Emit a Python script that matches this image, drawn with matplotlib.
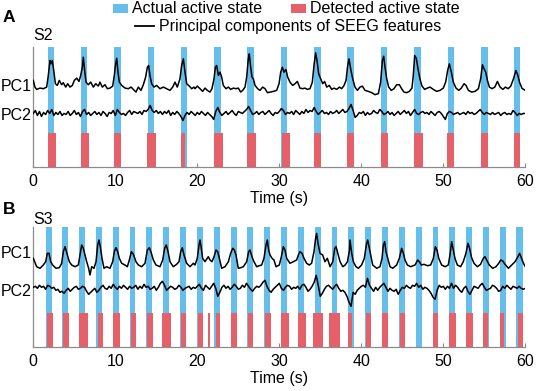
import numpy as np
import matplotlib
matplotlib.use("Agg")
import matplotlib.pyplot as plt
from matplotlib.patches import Rectangle
from matplotlib.lines import Line2D

plt.rcParams['font.family'] = ['Liberation Sans', 'DejaVu Sans']

# ---------------- data ----------------
xticks = [0, 10, 20, 30, 40, 50, 60]

A_actual_start = [1.75, 5.79, 9.88, 13.96, 18.0, 22.08, 26.1, 30.17, 34.25, 38.3, 42.38, 46.46, 50.54, 54.58, 58.6]
A_actual_end = [2.54, 6.58, 10.67, 14.75, 18.8, 22.88, 26.9, 30.96, 35.04, 39.1, 43.17, 47.25, 51.25, 55.4, 59.3]
A_detect_start = [1.75, 5.79, 9.88, 13.83, 18.0, 22.08, 26.1, 30.3, 34.25, 38.3, 42.46, 46.46, 50.4, 54.58, 58.6]
A_detect_end = [2.75, 6.75, 10.75, 14.96, 18.54, 23.08, 27.2, 31.3, 35.04, 39.1, 43.25, 47.54, 51.3, 55.42, 59.4]

B_actual_start = [0.0, 1.54, 3.54, 5.58, 7.67, 9.67, 11.75, 13.79, 15.83, 17.92, 19.96, 22.0, 24.08, 26.08, 28.17,
                  30.25, 32.3, 34.33, 36.38, 38.4, 40.5, 42.5, 44.58, 46.63, 48.7, 50.75, 52.8, 54.83, 56.9, 58.9]
B_actual_end = [0.1, 2.25, 4.25, 6.29, 8.38, 10.4, 12.46, 14.5, 16.58, 18.63, 20.67, 22.75, 24.79, 26.83, 28.9,
                30.96, 33.04, 35.08, 37.08, 39.17, 41.2, 43.25, 45.3, 47.38, 49.4, 51.46, 53.54, 55.58, 57.63, 59.67]
B_detect_start = [0.0, 1.67, 3.63, 5.63, 7.88, 9.75, 11.9, 13.88, 15.75, 18.0, 20.13, 21.25, 22.25, 24.08, 26.17,
                  28.25, 30.25, 32.33, 34.17, 36.08, 38.38, 40.58, 42.5, 44.67, 48.75, 50.75, 52.8, 54.88, 56.9, 59.08]
B_detect_end = [0.08, 2.38, 4.33, 6.63, 8.46, 10.58, 12.58, 14.58, 16.75, 18.58, 20.67, 21.58, 22.75, 24.9, 26.83,
                28.96, 31.13, 33.25, 35.33, 37.4, 38.9, 41.17, 43.25, 45.3, 49.38, 51.54, 53.63, 55.5, 57.46, 59.75]

# PC1 (S2) keypoints: time (s), amplitude
A_pc1_t = [0.0, 0.2, 0.41, 0.82, 1.22, 1.63, 1.83, 2.04, 2.16, 2.32, 2.52, 2.69, 2.93, 3.17, 3.46, 3.66, 3.95, 4.19,
           4.48, 4.76, 5.0, 5.29, 5.57, 5.78, 5.98, 6.1, 6.26, 6.43, 6.71, 7.0, 7.32, 7.61, 7.93, 8.13, 8.42, 8.74,
           9.03, 9.35, 9.68, 9.88, 10.04, 10.17, 10.33, 10.49, 10.78, 11.18, 11.59, 11.92, 12.2, 12.52, 12.81, 13.13,
           13.42, 13.7, 13.91, 14.07, 14.23, 14.43, 14.72, 15.04, 15.45, 15.86, 16.26, 16.67, 17.0, 17.28, 17.56,
           17.89, 18.09, 18.3, 18.5, 18.7, 19.03, 19.31, 19.6, 19.72, 20.0, 20.33, 20.65, 20.94, 21.22, 21.55, 21.79,
           22.04, 22.2, 22.36, 22.57, 22.77, 22.97, 23.17, 23.5, 23.79, 24.07, 24.4, 24.72, 25.0, 25.29, 25.53, 25.82,
           26.02, 26.22, 26.34, 26.51, 26.67, 26.83, 27.04, 27.36, 27.65, 27.97, 28.26, 28.55, 28.87, 29.28, 29.68,
           29.97, 30.17, 30.37, 30.57, 30.81, 31.02, 31.3, 31.63, 31.92, 32.2, 32.52, 32.85, 33.13, 33.42, 33.74,
           34.03, 34.23, 34.43, 34.6, 34.8, 35.05, 35.29, 35.53, 35.78, 36.1, 36.39, 36.67, 37.0, 37.33, 37.61, 37.9,
           38.14, 38.34, 38.5, 38.7, 38.95, 39.23, 39.52, 39.84, 40.13, 40.45, 40.86, 41.27, 41.67, 42.08, 42.36,
           42.57, 42.73, 42.89, 43.1, 43.34, 43.66, 43.99, 44.31, 44.64, 44.92, 45.2, 45.53, 45.86, 46.18, 46.34,
           46.51, 46.71, 46.91, 47.15, 47.4, 47.73, 48.05, 48.38, 48.78, 49.19, 49.6, 50.0, 50.29, 50.53, 50.74,
           50.98, 51.22, 51.55, 51.88, 52.2, 52.53, 52.77, 53.06, 53.46, 53.87, 54.28, 54.56, 54.77, 54.97, 55.18,
           55.38, 55.62, 55.95, 56.28, 56.6, 56.93, 57.26, 57.58, 57.91, 58.23, 58.56, 58.85, 59.1, 59.3, 59.6, 60.0]
A_pc1_v = [10, 3.3, 1, 2.3, 1.7, 3.3, 15, 30, 26.7, 30, 18.3, 6.7, 5, 10, 5.7, 7.7, 3.3, 6.7,
           3.3, 5, 10, 12.3, 9, 15, 23.3, 33.3, 20, 8.3, 5.7, 8.3, 3.3, 6.7, 4.3, 8.3, 3.3, 5.7,
           1.7, 2.3, 4.3, 15, 26.7, 32.3, 18.3, 8.3, 5, 2.3, 1.7, 3.3, 1, -1.7, 3.3, 0,
           5.7, 13.3, 23.3, 25, 15, 6.7, 3.3, 5, 1.7, 3.3, 1.7, 0, 3.3, 8.3, 3.3,
           11.7, 25, 31.7, 18.3, 6.7, 4.3, 1.7, 3.3, 1.7, 4.3, 1.7, -1, 2.3, 0, -1.7, 1.7,
           11.7, 23.3, 25, 15, 18.3, 13.3, 5, 1.7, 3.3, 1, 2.3, 1.7, 2.3, -1.7, 0, 3.3,
           13.3, 31.7, 36.7, 23.3, 13.3, 11.7, 5, 1.7, 0, 3.3, 1.7, -2.3, -1.7, -1, 0,
           6.7, 18.3, 23.3, 18.3, 21, 13.3, 8.3, 5, 6.7, 9, 2.3, 1.7, 2.3, 1, 1.7,
           8.3, 25, 37.7, 30, 16.7, 11.7, 6.7, 9, 3.3, 5, 1, 2.3, 1, 3.3, 1.7, 5,
           10, 25, 31.7, 21.7, 11.7, 3.3, 0, 3.3, 4.3, 0, -1, -2.3, -4.3, -3.3, 8.3,
           30, 34.3, 23.3, 11.7, 3.3, 0, 1.7, 5.7, 5.7, 1.7, -1.7, -2.3, -1, 2.3, 15,
           35, 32.3, 21.7, 11.7, 4.3, 1, 2.3, 3.3, 1, -1, 0, 2.3, 8.3, 20, 26.7,
           18.3, 8.3, 2.3, 0, 2.3, 6.7, 5, 0, -1.7, -1, 1.7, 11.7, 25.7, 21.7, 18.3,
           10, 3.3, 1.7, 3.3, 9, 3.3, 1, 3.3, 1.7, 4.3, 11.7, 20, 15, 8, 2, 0]

# PC2 (S2), sampled every 0.25 s from 0 to 60 s
A_pc2 = [0, 3, -2, 2, -3, 1, -1, 3, 0, 4, -2, 1, -1, 2, -2, 0,
         -1, 2, -2, 0, 3, -1, 1, -3, 2, 4, -1, 1, -2, 0, 2, -1,
         1, -2, 2, 0, -3, 1, 0, 3, -2, 4, 1, -1, 0, -2, 1, 3,
         -1, 2, 1, 0, 2, -1, 3, 2, 4, 8, 3, 1, 3, 0, 2, -1,
         2, 0, 3, -2, 1, -1, 2, 0, -3, -7, -2, 1, -1, 2, 0, -2,
         1, -1, 2, 0, -2, 1, -1, -3, -6, 2, 6, 1, -2, 0, 2, -1,
         1, 3, 0, -2, 2, 1, 0, 2, 4, 7, 3, -1, 0, 2, -1, 1,
         2, -1, 1, 3, 0, -2, 1, 0, 2, 5, 3, -1, 1, 0, 2, -1,
         3, 1, -1, 2, 0, 4, 1, 3, 2, 6, 2, -1, 1, 3, 0, 1,
         -1, 2, 0, 1, 3, 0, 2, 4, 1, 2, 5, 9, 3, -4, -2, 1,
         0, 2, -2, 1, -1, 0, 3, 1, 0, 4, 2, -1, 0, 2, -1, 1,
         -2, 0, 2, -1, 1, 3, 0, 2, -2, 1, 4, 0, -1, 1, 2, 0,
         1, -1, 2, 0, -2, 1, 2, 0, -3, -6, 0, 2, 1, -1, 0, 1,
         -1, 0, 1, -1, 2, 0, 1, -1, 0, 2, 4, 1, -1, 1, 0, -1,
         1, -1, 0, 1, -2, 0, 1, -1, 0, -1, 3, 1, -2, 0, -1, 0, 0]

# PC1 (S3) keypoints
B_pc1_t = [0.0, 0.41, 0.82, 1.22, 1.51, 1.71, 1.91, 2.12, 2.36, 2.77, 3.17, 3.46, 3.66, 3.87, 4.15, 4.39, 4.68,
           5.09, 5.49, 5.7, 5.9, 6.1, 6.3, 6.51, 6.75, 6.91, 7.12, 7.4, 7.65, 7.85, 8.01, 8.17, 8.38, 8.62, 8.95,
           9.35, 9.68, 9.88, 10.09, 10.29, 10.49, 10.78, 11.18, 11.47, 11.71, 11.96, 12.2, 12.52, 12.81, 13.22,
           13.62, 13.91, 14.15, 14.4, 14.64, 14.96, 15.45, 15.78, 16.02, 16.22, 16.43, 16.67, 17.07, 17.48, 17.77,
           17.97, 18.17, 18.38, 18.7, 19.11, 19.52, 19.72, 20.0, 20.21, 20.33, 20.49, 20.65, 20.94, 21.34, 21.55,
           21.79, 22.04, 22.28, 22.49, 22.69, 22.97, 23.38, 23.79, 24.07, 24.32, 24.52, 24.72, 25.0, 25.29, 25.62,
           26.02, 26.26, 26.42, 26.67, 26.91, 27.24, 27.57, 27.85, 28.13, 28.38, 28.54, 28.7, 28.87, 29.11, 29.35,
           29.6, 30.0, 30.25, 30.49, 30.69, 30.9, 31.3, 31.71, 32.11, 32.36, 32.52, 32.77, 33.01, 33.33, 33.66,
           33.94, 34.23, 34.43, 34.55, 34.72, 34.96, 35.29, 35.57, 35.86, 36.19, 36.52, 36.76, 36.92, 37.13, 37.41,
           37.74, 38.03, 38.31, 38.56, 38.62, 38.83, 39.03, 39.35, 39.64, 40.04, 40.37, 40.61, 40.78, 40.98, 41.14,
           41.39, 41.88, 42.28, 42.53, 42.69, 42.85, 43.01, 43.22, 43.5, 43.83, 44.31, 44.64, 44.92, 45.13, 45.33,
           45.62, 46.02, 46.55, 46.88, 47.08, 47.32, 47.65, 48.06, 48.46, 48.79, 49.03, 49.23, 49.44, 49.8, 50.21,
           50.61, 50.81, 51.02, 51.22, 51.42, 51.71, 52.11, 52.44, 52.76, 53.01, 53.21, 53.41, 53.74, 54.15, 54.55,
           54.88, 55.08, 55.29, 55.61, 56.02, 56.43, 56.76, 57.0, 57.25, 57.53, 57.94, 58.35, 58.75, 59.1, 59.3,
           59.55, 59.8, 60.0]
B_pc1_v = [8.4, 0, -1.6, 1.7, 5, 13.4, 13.4, 5, 1.7, -1.6, -1, 3.4, 15, 20, 11.7, 5, 1.7,
           0, 1.7, 11.7, 21.7, 18.4, 11.7, 5, -1.6, -8.3, 0, -1.6, 5, 21.7, 26.7, 20, 8.4, -1.6, 0,
           -1.6, 5, 15, 19, 15, 8.4, 3.4, 1.7, 0, 6.7, 15, 12.4, 5, 1.7, 0,
           3.4, 16.7, 19, 13.4, 6.7, 1.7, 0, 6.7, 18.4, 21.7, 15, 5, 0, 2.4, 5,
           15, 19, 11.7, 3.4, 0, 3.4, 1.7, 8.4, 21.7, 26.7, 18.4, 8.4, 5, 10, 6.7,
           5, 10, 16.7, 15, 8.4, -1.6, 0, 5, 13.4, 18.4, 16.7, 11.7, -1.6, -1, 0,
           5, 15, 16.7, 10, 5, 0, 1, 1.7, 8.4, 21.7, 26.7, 16.7, 11.7, 8.4, 6.7,
           0, 1.7, 10, 20, 16.7, 8.4, 3.4, 5, 6.7, 12.4, 15, 13.4, 8.4, 3.4, 1.7,
           3.4, 15, 28.4, 33.3, 23.4, 13.4, 11.7, 5, 8.4, 0, 5, 18.4, 20, 13.4, 5,
           0, 1.7, 5, 16.7, 26.7, 13.4, 5, 0, -1.6, 1.7, 8.4, 21.7, 26.7, 18.4, 11.7,
           1.7, -1.6, 0, 8.4, 21.7, 25, 15, 8.4, 0, -1.6, 1.7, 8.4, 18.4, 13.4, 6.7,
           1.7, 0, 1.7, 6.7, 5, 1.7, 2.4, 1, 1.7, 8.4, 20, 16.7, 8.4, 1.7, 0,
           1.7, 11.7, 25, 16.7, 8.4, 1.7, 0, 5, 13.4, 23.4, 18.4, 10, 3.4, 0, 2.4,
           8.4, 10, 6.7, 1.7, -1.6, 0, 3.4, 6.7, 5.7, 2.4, -1.6, 1.7, 5, 10, 13.3,
           8, 3, 0]

# PC2 (S3), sampled every 0.25 s from 0 to 60 s
B_pc2 = [1, 2, 0, 3, 1, 2, -1, 3, 2, 0, 1, -2, -1, -4, -3, -5,
         -2, 0, -3, -1, 1, 2, -1, 0, 2, 1, -3, -6, -4, -2, 0, -4,
         -2, 1, 3, 0, -1, 2, 0, 4, 1, -1, 2, 0, 3, 1, -1, 2,
         0, 1, 3, -1, 2, 0, 4, 1, 2, -1, 0, 2, -2, 1, 5, 7,
         3, -2, 0, 2, 1, -1, 0, 3, 1, -2, 0, 1, 2, -1, 1, 0,
         2, 4, 0, -2, 3, 1, -1, 2, 5, 0, -8, -4, 1, 3, 0, 2,
         -1, 1, 4, 2, -1, 0, 3, 1, 5, 2, -1, -3, 0, 2, 1, 3,
         6, 8, 2, -2, -4, -1, 1, 3, 5, 0, -2, 1, 3, 2, -1, 1,
         0, 2, -1, 3, 4, 1, -3, -1, 2, 6, 13, 3, -8, -5, -1, 2,
         3, 1, -1, 2, 4, 0, -3, -2, -4, -8, -14, -18, -4, -6, -2, 0,
         2, 3, 1, 10, 3, 0, -3, 1, -2, 1, 3, 5, 1, -3, 0, -2,
         -3, -1, -6, -2, 1, 0, 3, 1, 0, 3, 2, 5, 1, 3, -1, 1,
         0, -2, -5, -9, -11, -2, 3, 1, 2, -1, 2, 0, 5, 0, 3, 1,
         -2, -4, 0, 2, -3, -6, -2, 2, 1, 0, 3, 5, 1, -2, -1, 0,
         3, 2, 0, -3, -2, 2, 0, 3, 1, -1, 2, 1, 0, 2, 0, -1, 0]

# ---------------- figure ----------------
W, H = 536, 391
fig = plt.figure(figsize=(W / 100, H / 100), dpi=100)

BLUE = '#66BEEA'
RED = '#E6606A'
GRAY = '#8c8c8c'
FS = 11.5


def fx(x):
    return x / W


def fy(y):
    return 1 - y / H


def panel(top, bottom, act_s, act_e, det_s, det_e, pc1_t, pc1_v, pc2, off1, off2):
    ax = fig.add_axes([fx(33.3), fy(bottom), fx(525.3) - fx(33.3), (bottom - top) / H])
    ax.set_xlim(0, 60)
    ax.set_ylim(0, 120)
    s = np.array(act_s); e = np.array(act_e)
    ax.bar(s, 120, width=e - s, align='edge', color=BLUE, linewidth=0, zorder=1)
    s = np.array(det_s); e = np.array(det_e)
    ax.bar(s, 34, width=e - s, align='edge', color=RED, linewidth=0, zorder=2)
    ax.plot(pc1_t, np.array(pc1_v) + off1, color='black', lw=1.1, zorder=3)
    t2 = np.arange(len(pc2)) * 0.25
    ax.plot(t2, np.array(pc2) + off2, color='black', lw=1.1, zorder=3)
    for sp in ['top', 'right']:
        ax.spines[sp].set_visible(False)
    for sp in ['left', 'bottom']:
        ax.spines[sp].set_color(GRAY)
        ax.spines[sp].set_linewidth(0.9)
    ax.set_axisbelow(True)
    ax.set_yticks([])
    ax.set_xticks(xticks)
    ax.tick_params(axis='x', direction='in', length=3, color=GRAY, labelsize=FS, pad=5)
    ax.set_xlabel('Time (s)', fontsize=FS, labelpad=1.5)
    return ax


axA = panel(47.3, 166.7, A_actual_start, A_actual_end, A_detect_start, A_detect_end,
            A_pc1_t, A_pc1_v, A_pc2, 76.7, 53.5)
axB = panel(226.7, 346.7, B_actual_start, B_actual_end, B_detect_start, B_detect_end,
            B_pc1_t, B_pc1_v, B_pc2, 80.0, 58.4)

# labels
fig.text(fx(3), fy(18), 'A', fontsize=12.5, fontweight='bold', ha='left', va='center')
fig.text(fx(3), fy(210), 'B', fontsize=12.5, fontweight='bold', ha='left', va='center')
fig.text(fx(33), fy(36), 'S2', fontsize=FS, ha='left', va='center')
fig.text(fx(33), fy(220), 'S3', fontsize=FS, ha='left', va='center')
fig.text(fx(31.5), fy(86.5), 'PC1', fontsize=FS, ha='right', va='center')
fig.text(fx(31.5), fy(115), 'PC2', fontsize=FS, ha='right', va='center')
fig.text(fx(31.5), fy(253), 'PC1', fontsize=FS, ha='right', va='center')
fig.text(fx(31.5), fy(291), 'PC2', fontsize=FS, ha='right', va='center')

# legend
fig.add_artist(Rectangle((fx(113), fy(13)), fx(15), 9 / H, transform=fig.transFigure, color=BLUE, lw=0))
fig.text(fx(132), fy(8.7), 'Actual active state', fontsize=FS, ha='left', va='center')
fig.add_artist(Rectangle((fx(291), fy(13)), fx(15), 9 / H, transform=fig.transFigure, color=RED, lw=0))
fig.text(fx(310), fy(8.7), 'Detected active state', fontsize=FS, ha='left', va='center')
fig.add_artist(Line2D([fx(135), fx(154)], [fy(25.5), fy(25.5)], transform=fig.transFigure, color='black', lw=1.3))
fig.text(fx(159), fy(26), 'Principal components of SEEG features', fontsize=FS, ha='left', va='center')

fig.savefig('out.png', dpi=100)
